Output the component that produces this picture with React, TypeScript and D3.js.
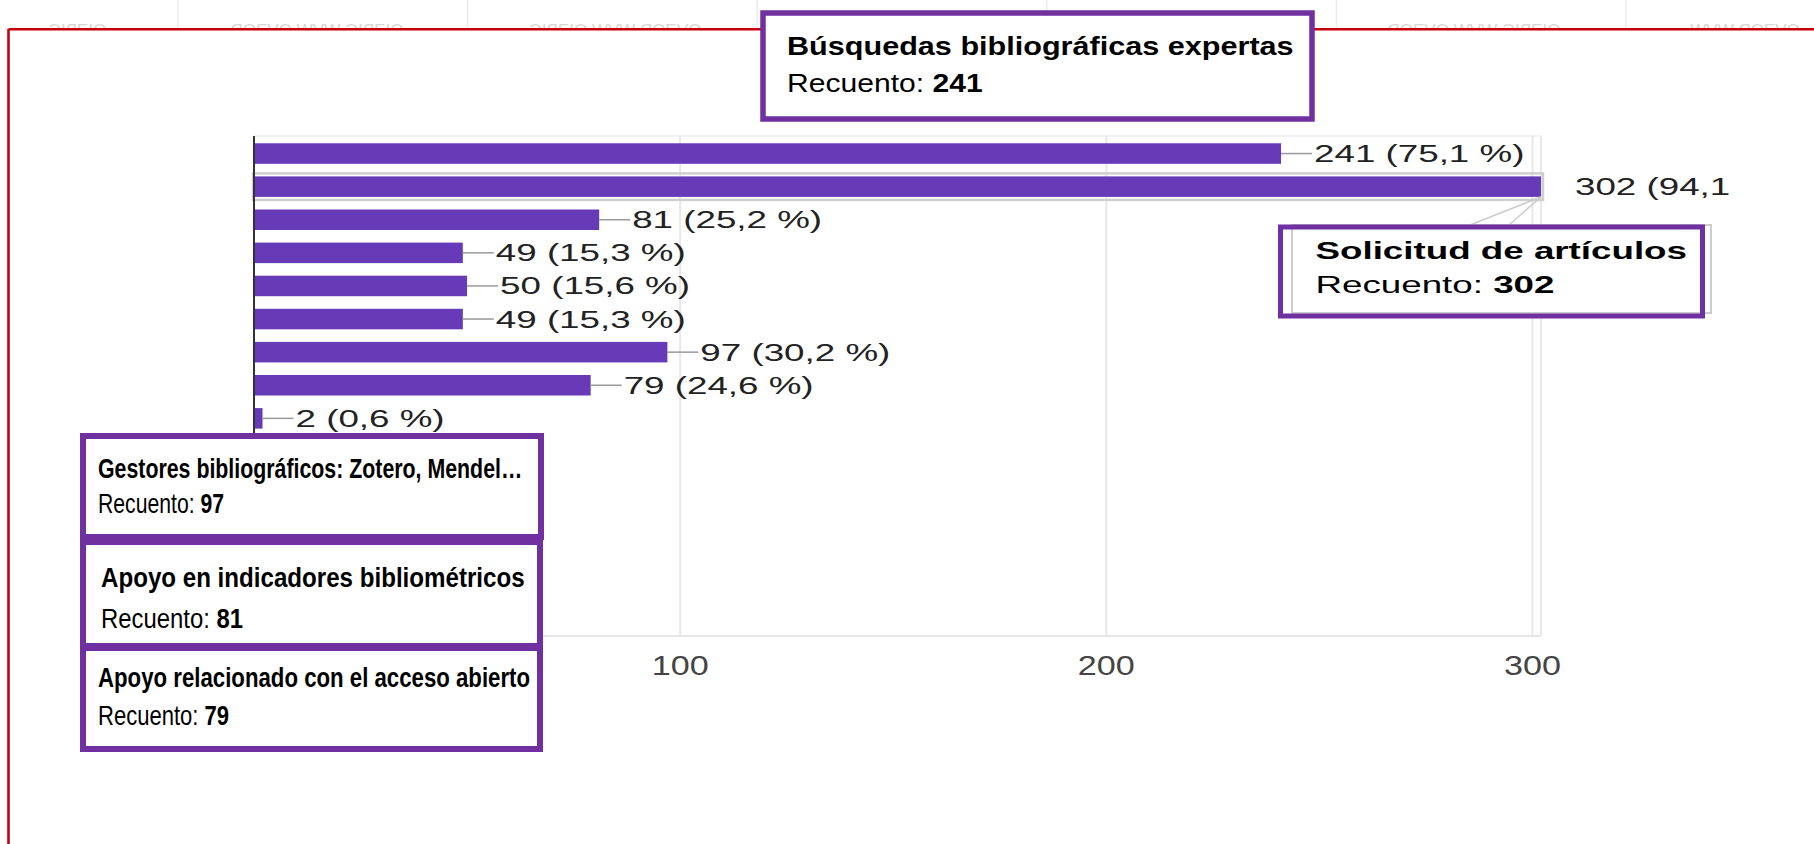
import React from 'react';
import * as d3 from 'd3';

// ---------- data ----------
const categories = [
  'Búsquedas bibliográficas expertas',
  'Solicitud de artículos',
  'Apoyo en indicadores bibliométricos',
  'Opción 4',
  'Opción 5',
  'Opción 6',
  'Gestores bibliográficos: Zotero, Mendel…',
  'Apoyo relacionado con el acceso abierto',
  'Otros',
];
const counts = [241, 302, 81, 49, 50, 49, 97, 79, 2];
const percentages = ['75,1', '94,1', '25,2', '15,3', '15,6', '15,3', '30,2', '24,6', '0,6'];
const xTicks = [0, 100, 200, 300];
const hoveredIndex = 1;
const countLabel = 'Recuento: ';
const watermarkTexts = ['OIƎBIG', 'OIƎBIG WVW OVƎOD', 'OVƎOD WVW OIƎBIG', 'OIƎBIG WVW OVƎOD', 'OVƎOD WVW'];

// ---------- layout ----------
const W = 1814;
const H = 844;
const FONT = "'Liberation Sans', Arial, Helvetica, sans-serif";
const PURPLE = '#7030a0';
const BAR = '#673ab7';

const StretchText: React.FC<{
  x: number; y: number; sx: number; size: number; fill?: string; weight?: string | number;
  anchor?: string; children: React.ReactNode;
}> = ({ x, y, sx, size, fill = '#000', weight = 'normal', anchor = 'start', children }) => (
  <g transform={`translate(${x},${y}) scale(${sx},1)`}>
    <text x={0} y={0} fontFamily={FONT} fontSize={size} fill={fill} fontWeight={weight} textAnchor={anchor}>
      {children}
    </text>
  </g>
);

export default function App() {
  const plot = { left: 254, right: 1541, top: 136, bottom: 636 };
  const barsTop = 137;
  const step = 33.1;

  const x = d3.scaleLinear().domain([0, d3.max(counts) as number]).range([plot.left, plot.right]);
  const y = d3
    .scaleBand<string>()
    .domain(categories)
    .range([barsTop, barsTop + categories.length * step])
    .paddingInner(0.38)
    .paddingOuter(0.19);
  const bw = y.bandwidth();

  const sepXs = d3.range(7).map((i) => 178 + i * 289.6).filter((v) => v < W);
  const wmCenters = [77, 317, 615, 1474, 1745];

  const hovCat = categories[hoveredIndex];
  const apexX = x(counts[hoveredIndex]);
  const apexY = (y(hovCat) as number) + bw;

  return (
    <svg width={W} height={H} style={{ position: 'absolute', left: 0, top: 0, display: 'block' }}>
      <defs>
        <clipPath id="labelClip">
          <rect x={0} y={0} width={1731} height={H} />
        </clipPath>
      </defs>
      <rect x={0} y={0} width={W} height={H} fill="#fff" />

      {/* faint background strip above the frame */}
      {sepXs.map((sx, i) => (
        <line key={'sep' + i} x1={sx} x2={sx} y1={0} y2={30} stroke="#ececec" strokeWidth={1.5} />
      ))}
      {wmCenters.map((cx, i) => (
        <g key={'wm' + i} transform={`translate(${cx},36) scale(-1,1)`}>
          <text textAnchor="middle" fontFamily={FONT} fontSize={17} fill="#d6d6d6">
            {watermarkTexts[i]}
          </text>
        </g>
      ))}
      <rect x={8} y={29} width={W - 8} height={H - 29} fill="#fff" />
      {/* red frame */}
      <line x1={8.5} x2={W} y1={29.3} y2={29.3} stroke="#c8000a" strokeWidth={2.6} />
      <line x1={8.5} x2={8.5} y1={29} y2={H} stroke="#c8000a" strokeWidth={2.6} />

      {/* plot frame & grid */}
      <line x1={plot.left} x2={plot.right} y1={plot.top} y2={plot.top} stroke="#eeeeee" strokeWidth={1.5} />
      <line x1={plot.left} x2={plot.right} y1={plot.bottom} y2={plot.bottom} stroke="#e6e6e6" strokeWidth={2} />
      <line x1={plot.right} x2={plot.right} y1={plot.top} y2={plot.bottom} stroke="#e8e8e8" strokeWidth={2} />
      {xTicks.filter((t) => t > 0).map((t) => (
        <line key={'g' + t} x1={x(t)} x2={x(t)} y1={plot.top} y2={plot.bottom} stroke="#e8e8e8" strokeWidth={2} />
      ))}

      {/* hover highlight */}
      <rect
        x={plot.left - 1}
        y={(y(hovCat) as number) - 3}
        width={x(counts[hoveredIndex]) - plot.left + 3}
        height={bw + 6}
        fill="none"
        stroke="#cfcfcf"
        strokeWidth={2.5}
      />

      {/* bars */}
      {categories.map((c, i) => (
        <rect key={'b' + i} x={x(0)} y={y(c) as number} width={x(counts[i]) - x(0)} height={bw} fill={BAR} />
      ))}

      {/* data labels */}
      {categories.map((c, i) => {
        const cy = (y(c) as number) + bw / 2;
        const ex = x(counts[i]);
        const hovered = i === hoveredIndex;
        return (
          <g key={'l' + i} clipPath="url(#labelClip)">
            {!hovered && <line x1={ex} x2={ex + 31} y1={cy} y2={cy} stroke="#9a9a9a" strokeWidth={1.5} />}
            <StretchText x={ex + (hovered ? 34 : 33)} y={cy + 8.5} sx={1.5} size={24.5} fill="#222">
              {`${counts[i]} (${percentages[i]} %)`}
            </StretchText>
          </g>
        );
      })}

      {/* axis line */}
      <line x1={x(0)} x2={x(0)} y1={plot.top} y2={plot.bottom} stroke="#333" strokeWidth={2} />

      {/* x tick labels (0 is hidden behind the tooltips in the reference) */}
      {xTicks.filter((t) => t > 0).map((t) => (
        <StretchText key={'t' + t} x={x(t)} y={675} sx={1.22} size={28} fill="#444" anchor="middle">
          {String(t)}
        </StretchText>
      ))}

      {/* tooltip: Solicitud de artículos */}
      <line x1={1470} y1={225} x2={apexX} y2={apexY} stroke="#cccccc" strokeWidth={1.5} />
      <line x1={1509} y1={225} x2={apexX} y2={apexY} stroke="#cccccc" strokeWidth={1.5} />
      <rect x={1292} y={225} width={419} height={88} fill="#fff" stroke="#cccccc" strokeWidth={2} />
      <rect x={1280.5} y={227} width={422} height={89} fill="none" stroke={PURPLE} strokeWidth={5} />
      <StretchText x={1315.5} y={259} sx={1.5} size={24.5} weight="bold">
        {categories[1]}
      </StretchText>
      <StretchText x={1315.5} y={293} sx={1.5} size={24.5}>
        {countLabel}
        <tspan fontWeight="bold">{counts[1]}</tspan>
      </StretchText>

      {/* tooltip: Búsquedas bibliográficas expertas */}
      <rect x={763} y={13} width={549} height={106} fill="#fff" stroke={PURPLE} strokeWidth={5.5} />
      <StretchText x={787} y={55} sx={1.2} size={25.5} weight="bold">
        {categories[0]}
      </StretchText>
      <StretchText x={787} y={92} sx={1.18} size={25.5}>
        {countLabel}
        <tspan fontWeight="bold">{counts[0]}</tspan>
      </StretchText>

      {/* tooltip: Gestores bibliográficos */}
      <rect x={83} y={436} width={458} height={101} fill="#fff" stroke={PURPLE} strokeWidth={6} />
      <StretchText x={98} y={478} sx={0.79} size={27} weight="bold">
        {categories[6]}
      </StretchText>
      <StretchText x={98} y={513} sx={0.785} size={27}>
        {countLabel}
        <tspan fontWeight="bold">{counts[6]}</tspan>
      </StretchText>

      {/* tooltip: Apoyo en indicadores bibliométricos */}
      <rect x={83} y={542} width={457} height={104} fill="#fff" stroke={PURPLE} strokeWidth={6} />
      <StretchText x={101} y={587} sx={0.894} size={27} weight="bold">
        {categories[2]}
      </StretchText>
      <StretchText x={101} y={628} sx={0.885} size={27}>
        {countLabel}
        <tspan fontWeight="bold">{counts[2]}</tspan>
      </StretchText>

      {/* tooltip: Apoyo relacionado con el acceso abierto */}
      <rect x={83} y={648} width={457} height={101} fill="#fff" stroke={PURPLE} strokeWidth={6} />
      <StretchText x={98} y={687} sx={0.823} size={27} weight="bold">
        {categories[7]}
      </StretchText>
      <StretchText x={98} y={725} sx={0.816} size={27}>
        {countLabel}
        <tspan fontWeight="bold">{counts[7]}</tspan>
      </StretchText>
    </svg>
  );
}
